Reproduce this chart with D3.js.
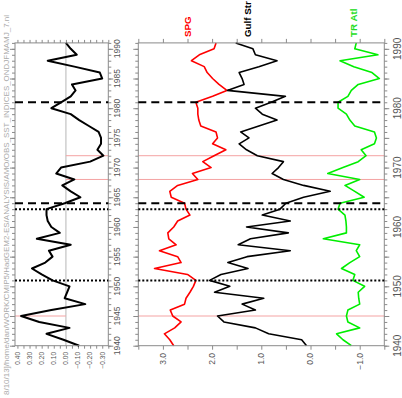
<!DOCTYPE html>
<html>
<head>
<meta charset="utf-8">
<script src="https://cdn.jsdelivr.net/npm/d3@7"></script>
<style>
body{margin:0;background:#fff;}
svg{display:block;font-family:"Liberation Sans",Arial,sans-serif;}
</style>
</head>
<body>
<div id="chart"></div>
<script>
// yearly indices, 1940-1991
var years = d3.range(1940, 1992);
var amo = [-0.11,0.02,0.16,-0.03,0.22,0.37,0.12,-0.16,0.01,-0.01,-0.03,0.11,0.20,0.28,0.17,0.11,0.14,-0.04,0.24,0.05,0.12,0.15,0.16,0.16,0.01,-0.12,-0.04,0.03,-0.07,0.08,0.04,-0.20,-0.31,-0.26,-0.29,-0.29,-0.27,-0.19,-0.11,-0.04,0.12,0.04,-0.04,-0.08,-0.05,-0.30,-0.28,-0.07,0.15,-0.09,-0.04,0.00];
var spg = [2.78,2.86,2.97,2.76,2.63,2.80,2.85,2.56,2.53,2.45,2.38,2.33,2.50,3.17,2.63,2.70,3.07,2.73,2.88,2.90,2.78,2.70,2.45,2.53,2.56,2.83,2.86,2.70,2.29,2.40,2.02,2.19,1.96,1.72,1.99,1.89,1.92,2.23,2.27,2.29,2.29,2.33,1.99,1.70,1.86,1.99,2.10,2.16,2.42,2.26,1.96,1.92];
var gulf = [0.08,0.18,0.85,1.12,1.76,1.89,1.12,1.39,0.95,1.95,1.64,2.05,1.82,1.27,1.68,1.29,0.41,1.47,1.22,0.45,1.30,0.41,0.98,0.62,0.50,0.14,-0.40,0.14,0.55,0.78,0.65,0.55,1.08,1.30,1.45,1.25,1.42,1.05,0.68,0.98,1.12,0.80,0.51,1.69,1.35,1.39,1.45,1.05,0.68,1.12,1.17,1.52];
var trAtl = [-0.83,-0.66,-0.53,-1.00,-0.76,-0.73,-0.76,-1.00,-0.98,-0.97,-1.10,-0.86,-0.90,-0.63,-0.80,-1.00,-0.93,-1.00,-0.26,-0.73,-0.73,-0.72,-0.70,-0.56,-0.60,-1.09,-0.90,-0.70,-1.00,-0.35,-0.66,-0.97,-1.13,-1.03,-1.30,-1.34,-1.30,-0.90,-0.80,-0.73,-0.56,-0.56,-0.76,-0.83,-0.97,-1.40,-1.25,-0.88,-0.60,-1.37,-0.90,-0.93];

var dashedYears = [1964, 1981];
var dottedYears = [1951, 1963];
var redYears = [1945, 1968, 1972];
var leftTicks = [-0.35,-0.30,-0.25,-0.20,-0.15,-0.10,-0.05,0,0.05,0.10,0.15,0.20,0.25,0.30,0.35,0.40];
var leftLabels = [-0.30,-0.20,-0.10,0,0.10,0.20,0.30,0.40];
var mainTicks = [-1.5,-1.0,-0.5,0,0.5,1.0,1.5,2.0,2.5,3.0,3.5];
var mainLabels = [-1.0,0,1.0,2.0,3.0];
var leftYearLabels = [1940,1945,1950,1955,1960,1965,1970,1975,1980,1985,1990];
var mainYearLabels = [1940,1950,1960,1970,1980,1990];
var seriesNames = ["SPG","Gulf Str","TR Atl"];
var seriesColors = ["#ff0000","#000000","#00ee00"];
var seriesLabelAt = [2.5, 1.27, -0.87];

var svg = d3.select("#chart").append("svg")
  .attr("width", 402).attr("height", 398);
svg.append("rect").attr("width", 402).attr("height", 398).attr("fill", "#fff");

var y = d3.scaleLinear().domain([1940, 1991]).range([345.7, 42.9]);
var xL = d3.scaleLinear().domain([-0.35, 0.42]).range([108.3, 15]);
var xM = d3.scaleLinear().domain([-1.5, 3.5]).range([384.3, 138.3]);

var axisCol = "#8a8a8a", textCol = "#555";

function frame(x) {
  var x0 = x.range()[1], x1 = x.range()[0];
  var g = svg.append("g");
  // year ticks left and right
  g.append("g").attr("transform", "translate(" + x0 + ",0)")
    .call(d3.axisLeft(y).tickValues(years).tickSize(3).tickFormat(""));
  g.append("g").attr("transform", "translate(" + x0 + ",0)")
    .call(d3.axisLeft(y).tickValues(d3.range(1940, 1992, 5)).tickSize(5).tickFormat(""));
  g.append("g").attr("transform", "translate(" + x1 + ",0)")
    .call(d3.axisRight(y).tickValues(years).tickSize(3).tickFormat(""));
  g.append("g").attr("transform", "translate(" + x1 + ",0)")
    .call(d3.axisRight(y).tickValues(d3.range(1940, 1992, 5)).tickSize(5).tickFormat(""));
  g.selectAll(".domain").remove();
  g.selectAll("line").attr("stroke", axisCol);
  return g;
}

// ----- left panel -----
frame(xL);
var lt = svg.append("g");
lt.append("g").attr("transform", "translate(0," + y.range()[1] + ")")
  .call(d3.axisTop(xL).tickValues(leftTicks).tickSize(3).tickFormat(""));
lt.append("g").attr("transform", "translate(0," + y.range()[0] + ")")
  .call(d3.axisBottom(xL).tickValues(leftTicks).tickSize(3).tickFormat(""));
lt.selectAll(".domain").remove();
lt.selectAll("line").attr("stroke", axisCol);

svg.append("line")
  .attr("x1", xL(0)).attr("x2", xL(0))
  .attr("y1", y(1940)).attr("y2", y(1991))
  .attr("stroke", "#cfcfcf").attr("stroke-width", 1.5);

svg.selectAll(".redL").data(redYears).enter().append("line")
  .attr("x1", xL(0))
  .attr("x2", function(d) { return amo[d - 1940] > 0 ? xL.range()[1] : xL.range()[0]; })
  .attr("y1", function(d) { return y(d); }).attr("y2", function(d) { return y(d); })
  .attr("stroke", "#f4a3a3").attr("stroke-width", 1);

svg.append("path").datum(amo)
  .attr("fill", "none").attr("stroke", "#000").attr("stroke-width", 2)
  .attr("stroke-linejoin", "round")
  .attr("d", d3.line().x(function(d) { return xL(d); }).y(function(d, i) { return y(years[i]); }));

svg.append("rect")
  .attr("x", xL.range()[1]).attr("y", y.range()[1])
  .attr("width", xL.range()[0] - xL.range()[1]).attr("height", y.range()[0] - y.range()[1])
  .attr("fill", "none").attr("stroke", axisCol);

svg.selectAll(".ll").data(leftLabels).enter().append("text")
  .attr("transform", function(d) { return "translate(" + xL(d) + ",352) rotate(-90)"; })
  .attr("dy", "0.35em").attr("text-anchor", "end")
  .attr("font-size", 6.5).attr("fill", textCol)
  .text(function(d) { return d3.format(".2f")(d); });

svg.selectAll(".ly").data(leftYearLabels).enter().append("text")
  .attr("transform", function(d) { return "translate(117," + y(d) + ") rotate(-90)"; })
  .attr("dy", "0.35em").attr("text-anchor", "middle")
  .attr("font-size", 8.5).attr("fill", textCol)
  .text(function(d) { return d; });

// ----- main panel -----
frame(xM);
var mt = svg.append("g");
mt.append("g").attr("transform", "translate(0," + y.range()[1] + ")")
  .call(d3.axisTop(xM).tickValues(mainTicks).tickSize(4).tickFormat(""));
mt.append("g").attr("transform", "translate(0," + y.range()[0] + ")")
  .call(d3.axisBottom(xM).tickValues(mainTicks).tickSize(4).tickFormat(""));
mt.selectAll(".domain").remove();
mt.selectAll("line").attr("stroke", axisCol);

svg.selectAll(".redM").data(redYears).enter().append("line")
  .attr("x1", xM.range()[1]).attr("x2", xM.range()[0])
  .attr("y1", function(d) { return y(d); }).attr("y2", function(d) { return y(d); })
  .attr("stroke", "#f4a3a3").attr("stroke-width", 1);

var lineM = d3.line().x(function(d) { return xM(d); }).y(function(d, i) { return y(years[i]); });
[spg, gulf, trAtl].forEach(function(s, k) {
  svg.append("path").datum(s)
    .attr("fill", "none").attr("stroke", seriesColors[k]).attr("stroke-width", 1.6)
    .attr("stroke-linejoin", "round")
    .attr("d", lineM);
});

svg.append("rect")
  .attr("x", xM.range()[1]).attr("y", y.range()[1])
  .attr("width", xM.range()[0] - xM.range()[1]).attr("height", y.range()[0] - y.range()[1])
  .attr("fill", "none").attr("stroke", axisCol);

svg.selectAll(".ml").data(mainLabels).enter().append("text")
  .attr("transform", function(d) { return "translate(" + xM(d) + ",353) rotate(-90)"; })
  .attr("dy", "0.35em").attr("text-anchor", "end")
  .attr("font-size", 8.5).attr("fill", textCol)
  .text(function(d) { return d3.format(".1f")(d); });

svg.selectAll(".my").data(mainYearLabels).enter().append("text")
  .attr("transform", function(d) { return "translate(397.5," + y(d) + ") rotate(-90)"; })
  .attr("dy", "0.35em").attr("text-anchor", "middle")
  .attr("font-size", 10).attr("fill", textCol)
  .text(function(d) { return d; });

seriesNames.forEach(function(n, k) {
  svg.append("text")
    .attr("transform", "translate(" + xM(seriesLabelAt[k]) + ",37) rotate(-90)")
    .attr("dy", "0.35em").attr("text-anchor", "start")
    .attr("font-size", 9.8).attr("font-weight", "bold")
    .attr("fill", seriesColors[k] == "#00ee00" ? "#22dd22" : seriesColors[k])
    .text(n);
});

// ----- event lines across both panels -----
[xL, xM].forEach(function(x) {
  svg.selectAll(null).data(dashedYears).enter().append("line")
    .attr("x1", x.range()[1]).attr("x2", x.range()[0])
    .attr("y1", function(d) { return y(d); }).attr("y2", function(d) { return y(d); })
    .attr("stroke", "#000").attr("stroke-width", 2).attr("stroke-dasharray", "8,5");
  svg.selectAll(null).data(dottedYears).enter().append("line")
    .attr("x1", x.range()[1]).attr("x2", x.range()[0])
    .attr("y1", function(d) { return y(d); }).attr("y2", function(d) { return y(d); })
    .attr("stroke", "#000").attr("stroke-width", 2).attr("stroke-dasharray", "2,2");
});

// file path stamp
svg.append("text")
  .attr("transform", "translate(8.5,15) rotate(-90)")
  .attr("text-anchor", "end")
  .attr("font-size", 8).attr("fill", "#aaa")
  .attr("textLength", 380).attr("lengthAdjust", "spacingAndGlyphs")
  .text("8/10/13]/home/dan/WORK/CMIP5/HadGEM2-ES/ANALYSIS/AMO/OBS_SST_INDICES_ONDJFMAMJ_7.nl");
</script>
</body>
</html>
